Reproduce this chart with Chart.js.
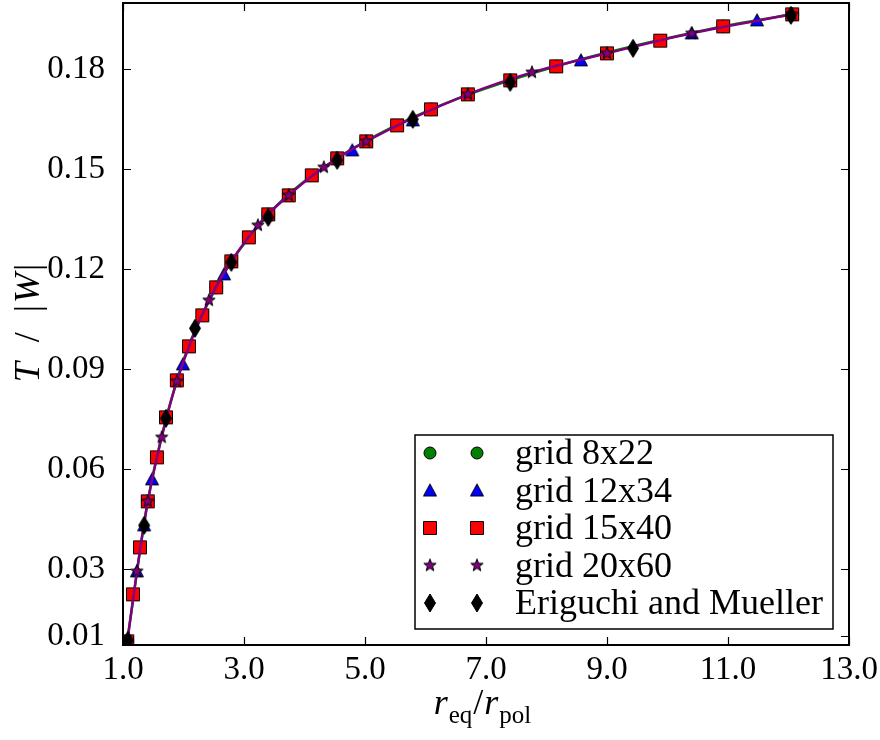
<!DOCTYPE html>
<html>
<head>
<meta charset="utf-8">
<script src="https://cdn.jsdelivr.net/npm/chart.js@4.4.1/dist/chart.umd.min.js"></script>
<style>
  body { margin: 0; background: #fff; }
  #wrap { width: 880px; height: 740px; }
</style>
</head>
<body>
<div id="wrap"><canvas id="chart" width="880" height="740"></canvas></div>
<script>
// axis ratio r_eq / r_pol against T/|W| for each grid resolution
const grid8x22X = [1.07, 1.41, 1.89, 2.54, 3.40, 4.54, 6.09, 8.16, 10.92, 12.06];
const grid8x22Y = [0.0084, 0.0504, 0.0867, 0.1146, 0.1365, 0.1533, 0.1680, 0.1809, 0.1929, 0.1965];

const grid12x34X = [1.07, 1.23, 1.35, 1.48, 1.99, 2.67, 4.79, 5.79, 8.57, 10.40, 11.48];
const grid12x34Y = [0.0084, 0.0294, 0.0432, 0.0570, 0.0915, 0.1185, 0.1557, 0.1647, 0.1827, 0.1908, 0.1947];

const grid15x40X = [1.07, 1.165, 1.28, 1.41, 1.56, 1.71, 1.89, 2.09, 2.31, 2.54, 2.79, 3.08, 3.40,
  3.74, 4.12, 4.54, 5.02, 5.53, 6.09, 6.70, 7.40, 8.16, 9.00, 9.88, 10.92, 12.06];
const grid15x40Y = [0.0084, 0.0225, 0.0366, 0.0504, 0.0636, 0.0756, 0.0867, 0.0969, 0.1062, 0.1146,
  0.1224, 0.1296, 0.1365, 0.1422, 0.1482, 0.1533, 0.1584, 0.1632, 0.1680, 0.1725, 0.1767, 0.1809,
  0.1848, 0.1886, 0.1929, 0.1965];

const grid20x60X = [1.07, 1.23, 1.41, 1.64, 1.89, 2.42, 3.23, 3.74, 4.32, 5.02, 6.70, 7.76, 9.00, 10.40, 12.06];
const grid20x60Y = [0.0084, 0.0294, 0.0504, 0.0696, 0.0864, 0.1107, 0.1332, 0.1422, 0.1506, 0.1584,
  0.1725, 0.1791, 0.1848, 0.1908, 0.1965];

const eriguchiX = [1.08, 1.35, 1.71, 2.19, 2.79, 3.40, 4.54, 5.79, 7.40, 9.43, 12.04];
const eriguchiY = [0.0087, 0.0432, 0.0753, 0.1023, 0.1221, 0.1356, 0.1527, 0.1650, 0.1761, 0.1863, 0.1962];

const xTicks = [1, 3, 5, 7, 9, 11, 13];
const yTicks = [0.01, 0.03, 0.06, 0.09, 0.12, 0.15, 0.18];

const FONT = "'Liberation Serif', 'Times New Roman', serif";
Chart.defaults.font.family = FONT;
Chart.defaults.color = '#000';

function pts(xs, ys) {
  return xs.map((x, i) => ({ x: x, y: ys[i] }));
}

// small offscreen canvases used as point styles
function marker(shape, fill) {
  const c = document.createElement('canvas');
  c.width = 22; c.height = 22;
  const g = c.getContext('2d');
  const cx = 11, cy = 11;
  g.beginPath();
  if (shape === 'circle') {
    g.arc(cx, cy, 6, 0, Math.PI * 2);
  } else if (shape === 'square') {
    g.rect(cx - 6.5, cy - 6.5, 13, 13);
  } else if (shape === 'triangle') {
    g.moveTo(cx, cy - 6.5);
    g.lineTo(cx + 6.5, cy + 5.5);
    g.lineTo(cx - 6.5, cy + 5.5);
    g.closePath();
  } else if (shape === 'star') {
    for (let i = 0; i < 10; i++) {
      const r = i % 2 === 0 ? 6.5 : 2.7;
      const a = -Math.PI / 2 + i * Math.PI / 5;
      const px = cx + r * Math.cos(a), py = cy + r * Math.sin(a);
      if (i === 0) g.moveTo(px, py); else g.lineTo(px, py);
    }
    g.closePath();
  } else if (shape === 'diamond') {
    g.moveTo(cx, cy - 9);
    g.lineTo(cx + 5.5, cy);
    g.lineTo(cx, cy + 9);
    g.lineTo(cx - 5.5, cy);
    g.closePath();
  }
  g.fillStyle = fill;
  g.fill();
  g.lineWidth = 1;
  g.strokeStyle = '#000';
  g.stroke();
  return c;
}

const series = [
  { label: 'grid 8x22', xs: grid8x22X, ys: grid8x22Y, img: marker('circle', '#008000'), line: '#008000', order: 5 },
  { label: 'grid 12x34', xs: grid12x34X, ys: grid12x34Y, img: marker('triangle', '#0000ff'), line: null, order: 4 },
  { label: 'grid 15x40', xs: grid15x40X, ys: grid15x40Y, img: marker('square', '#ff0000'), line: null, order: 3 },
  { label: 'grid 20x60', xs: grid20x60X, ys: grid20x60Y, img: marker('star', '#800080'), line: '#800080', order: 2 },
  { label: 'Eriguchi and Mueller', xs: eriguchiX, ys: eriguchiY, img: marker('diamond', '#000000'), line: null, order: 1 },
];

const datasets = series.map(s => ({
  label: s.label,
  data: pts(s.xs, s.ys),
  order: s.order,
  showLine: !!s.line,
  borderColor: s.line || '#000',
  borderWidth: 2.5,
  cubicInterpolationMode: 'monotone',
  pointStyle: s.img,
  pointRadius: 7,
  clip: 0,
}));

const frame = {
  id: 'frame',
  afterDraw(chart) {
    const { ctx, chartArea: a, scales } = chart;
    ctx.save();
    ctx.strokeStyle = '#000';
    ctx.lineWidth = 1.2;
    ctx.beginPath();
    xTicks.forEach(v => {
      const px = Math.round(scales.x.getPixelForValue(v)) + 0.5;
      ctx.moveTo(px, a.bottom); ctx.lineTo(px, a.bottom - 8);
      ctx.moveTo(px, a.top); ctx.lineTo(px, a.top + 8);
    });
    yTicks.forEach(v => {
      const py = Math.round(scales.y.getPixelForValue(v)) + 0.5;
      ctx.moveTo(a.left, py); ctx.lineTo(a.left + 8, py);
      ctx.moveTo(a.right, py); ctx.lineTo(a.right - 8, py);
    });
    ctx.stroke();
    ctx.lineWidth = 2;
    ctx.strokeRect(a.left, a.top, a.right - a.left, a.bottom - a.top);

    // legend: two markers per entry, no line
    const lx = 415, ly = 435, lw = 418, lh = 194;
    ctx.fillStyle = '#fff';
    ctx.fillRect(lx, ly, lw, lh);
    ctx.lineWidth = 1.5;
    ctx.strokeRect(lx, ly, lw, lh);
    ctx.font = '36px ' + FONT;
    ctx.fillStyle = '#000';
    ctx.textBaseline = 'middle';
    ctx.textAlign = 'left';
    series.forEach((s, i) => {
      const ry = 453 + i * 37.5;
      ctx.drawImage(s.img, 430 - 11, ry - 11);
      ctx.drawImage(s.img, 477 - 11, ry - 11);
      ctx.fillText(s.label, 515, ry + 2);
    });

    // y title: T / |W|
    ctx.save();
    ctx.translate(27, 322);
    ctx.rotate(-Math.PI / 2);
    const parts = [
      ['T', 'italic 36px '], ['  /  ', '36px '], ['|', '36px '], ['W', 'italic 36px '], ['|', '36px '],
    ];
    let total = 0;
    parts.forEach(p => { ctx.font = p[1] + FONT; total += ctx.measureText(p[0]).width + 2; });
    let cx = -total / 2;
    ctx.textBaseline = 'alphabetic';
    parts.forEach(p => {
      ctx.font = p[1] + FONT;
      ctx.fillText(p[0], cx, 12);
      cx += ctx.measureText(p[0]).width + 2;
    });
    ctx.restore();

    // x title: r_eq / r_pol
    const xparts = [
      ['r', 'italic 36px ', 0], ['eq', '25px ', 9], ['/', '36px ', 0], ['r', 'italic 36px ', 0], ['pol', '25px ', 9],
    ];
    total = 0;
    xparts.forEach(p => { ctx.font = p[1] + FONT; total += ctx.measureText(p[0]).width + 1; });
    cx = 483 - total / 2;
    ctx.textBaseline = 'alphabetic';
    xparts.forEach(p => {
      ctx.font = p[1] + FONT;
      ctx.fillText(p[0], cx, 714 + p[2]);
      cx += ctx.measureText(p[0]).width + 1;
    });
    ctx.restore();
  }
};

new Chart(document.getElementById('chart'), {
  type: 'scatter',
  data: { datasets: datasets },
  options: {
    responsive: false,
    animation: false,
    layout: { autoPadding: false, padding: { left: 0, top: 3, right: 31, bottom: 0 } },
    plugins: { legend: { display: false }, tooltip: { enabled: false } },
    scales: {
      x: {
        type: 'linear',
        min: 1, max: 13,
        grid: { display: false },
        border: { display: false },
        afterFit: s => { s.height = 95; s.paddingLeft = 0; s.paddingRight = 0; },
        afterBuildTicks: s => { s.ticks = xTicks.map(v => ({ value: v })); },
        ticks: {
          font: { size: 33 },
          padding: -2,
          maxRotation: 0,
          callback: v => v.toFixed(1),
        },
      },
      y: {
        type: 'linear',
        min: 0.0073, max: 0.1999,
        grid: { display: false },
        border: { display: false },
        afterFit: s => { s.width = 123; s.paddingTop = 0; s.paddingBottom = 0; },
        afterBuildTicks: s => { s.ticks = yTicks.map(v => ({ value: v })); },
        ticks: {
          font: { size: 33 },
          padding: 10,
          callback: v => v.toFixed(2),
        },
      },
    },
  },
  plugins: [frame],
});
</script>
</body>
</html>
